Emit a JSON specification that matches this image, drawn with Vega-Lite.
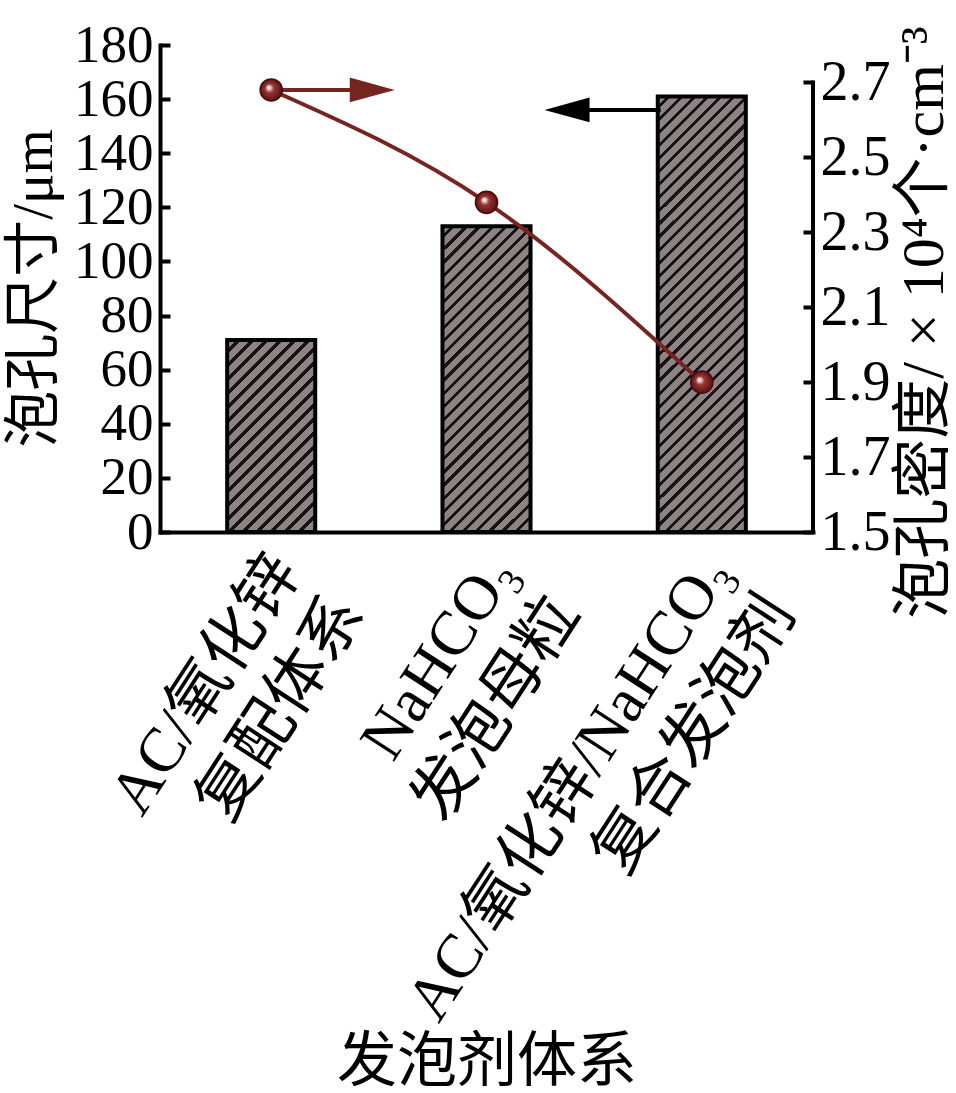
{
"$schema":"https://vega.github.io/schema/vega-lite/v6.json",
"width":653,"height":487,
"autosize":{"type":"none"},
"padding":{"left":160,"top":45,"right":143,"bottom":561},
"background":"white",
"config":{"view":{"stroke":null},"axis":{"grid":false,"domainColor":"#000","domainWidth":4,"tickColor":"#000","tickWidth":4,"labelColor":"#000","titleColor":"#000","labelFont":"Liberation Serif, Noto Sans CJK SC","titleFont":"Liberation Serif, Noto Sans CJK SC","titleFontWeight":"normal"}},
"data":{"values":[
{"system":"AC/氧化锌\n复配体系","size":71,"density":2.68},
{"system":"NaHCO₃\n发泡母粒","size":113,"density":2.38},
{"system":"AC/氧化锌/NaHCO₃\n复合发泡剂","size":161,"density":1.9}
]},
"resolve":{"scale":{"x":"independent","y":"independent"}},
"layer":[
{"transform":[{"filter":{"field":"system","equal":"AC/氧化锌\n复配体系"}}],
"mark":{"type":"bar","stroke":"#000","strokeWidth":4,"fill":{"gradient":"linear","x1":0,"y1":0,"x2":0.552,"y2":1.205,"stops":[
{"offset":0,"color":"#8c8484"},{"offset":0.034,"color":"#8c8484"},{"offset":0.034,"color":"#1a1212"},{"offset":0.05,"color":"#1a1212"},
{"offset":0.05,"color":"#8c8484"},{"offset":0.084,"color":"#8c8484"},{"offset":0.084,"color":"#1a1212"},{"offset":0.1,"color":"#1a1212"},
{"offset":0.1,"color":"#8c8484"},{"offset":0.134,"color":"#8c8484"},{"offset":0.134,"color":"#1a1212"},{"offset":0.15,"color":"#1a1212"},
{"offset":0.15,"color":"#8c8484"},{"offset":0.184,"color":"#8c8484"},{"offset":0.184,"color":"#1a1212"},{"offset":0.2,"color":"#1a1212"},
{"offset":0.2,"color":"#8c8484"},{"offset":0.234,"color":"#8c8484"},{"offset":0.234,"color":"#1a1212"},{"offset":0.25,"color":"#1a1212"},
{"offset":0.25,"color":"#8c8484"},{"offset":0.284,"color":"#8c8484"},{"offset":0.284,"color":"#1a1212"},{"offset":0.3,"color":"#1a1212"},
{"offset":0.3,"color":"#8c8484"},{"offset":0.334,"color":"#8c8484"},{"offset":0.334,"color":"#1a1212"},{"offset":0.35,"color":"#1a1212"},
{"offset":0.35,"color":"#8c8484"},{"offset":0.384,"color":"#8c8484"},{"offset":0.384,"color":"#1a1212"},{"offset":0.4,"color":"#1a1212"},
{"offset":0.4,"color":"#8c8484"},{"offset":0.434,"color":"#8c8484"},{"offset":0.434,"color":"#1a1212"},{"offset":0.45,"color":"#1a1212"},
{"offset":0.45,"color":"#8c8484"},{"offset":0.484,"color":"#8c8484"},{"offset":0.484,"color":"#1a1212"},{"offset":0.5,"color":"#1a1212"},
{"offset":0.5,"color":"#8c8484"},{"offset":0.534,"color":"#8c8484"},{"offset":0.534,"color":"#1a1212"},{"offset":0.55,"color":"#1a1212"},
{"offset":0.55,"color":"#8c8484"},{"offset":0.584,"color":"#8c8484"},{"offset":0.584,"color":"#1a1212"},{"offset":0.6,"color":"#1a1212"},
{"offset":0.6,"color":"#8c8484"},{"offset":0.634,"color":"#8c8484"},{"offset":0.634,"color":"#1a1212"},{"offset":0.65,"color":"#1a1212"},
{"offset":0.65,"color":"#8c8484"},{"offset":0.684,"color":"#8c8484"},{"offset":0.684,"color":"#1a1212"},{"offset":0.7,"color":"#1a1212"},
{"offset":0.7,"color":"#8c8484"},{"offset":0.734,"color":"#8c8484"},{"offset":0.734,"color":"#1a1212"},{"offset":0.75,"color":"#1a1212"},
{"offset":0.75,"color":"#8c8484"},{"offset":0.784,"color":"#8c8484"},{"offset":0.784,"color":"#1a1212"},{"offset":0.8,"color":"#1a1212"},
{"offset":0.8,"color":"#8c8484"},{"offset":0.834,"color":"#8c8484"},{"offset":0.834,"color":"#1a1212"},{"offset":0.85,"color":"#1a1212"},
{"offset":0.85,"color":"#8c8484"},{"offset":0.884,"color":"#8c8484"},{"offset":0.884,"color":"#1a1212"},{"offset":0.9,"color":"#1a1212"},
{"offset":0.9,"color":"#8c8484"},{"offset":0.934,"color":"#8c8484"},{"offset":0.934,"color":"#1a1212"},{"offset":0.95,"color":"#1a1212"},
{"offset":0.95,"color":"#8c8484"},{"offset":0.984,"color":"#8c8484"},{"offset":0.984,"color":"#1a1212"},{"offset":1,"color":"#1a1212"}
]}},
"encoding":{
"x":{"field":"system","type":"nominal","sort":null,"scale":{"type":"band","domain":["AC/氧化锌\n复配体系","NaHCO₃\n发泡母粒","AC/氧化锌/NaHCO₃\n复合发泡剂"],"paddingInner":0.591,"paddingOuter":0.312},
"axis":{"title":"发泡剂体系","titleFontSize":60,"titleBaseline":"middle","titleAlign":"center","titleY":530,"labelAngle":-57,"labelAlign":"right","labelBaseline":"top","labelFontSize":63,"labelLineHeight":76,"labelExpr":"split(datum.value, '\\n')","labelPadding":12,"labelOffset":-11,"labelLimit":1000,"labelOverlap":false,"labelBound":false,"ticks":false,"domainCap":"square"}},
"y":{"field":"size","type":"quantitative","scale":{"domain":[0,180],"nice":false},
"axis":{"title":"泡孔尺寸/μm","titleFontSize":57,"titleBaseline":"middle","titleAlign":"center","titleAngle":270,"titleX":-126,"titleY":243,"values":[0,20,40,60,80,100,120,140,160,180],"labelFontSize":53,"tickSize":-10,"labelPadding":17,"labelOverlap":false,"labelFlush":false,"labelBound":false,"domainCap":"square"}}
}},
{"transform":[{"filter":{"field":"system","equal":"NaHCO₃\n发泡母粒"}}],
"mark":{"type":"bar","stroke":"#000","strokeWidth":4,"fill":{"gradient":"linear","x1":0,"y1":0,"x2":0.342,"y2":1.189,"stops":[
{"offset":0,"color":"#8c8484"},{"offset":0.0227,"color":"#8c8484"},{"offset":0.0227,"color":"#1a1212"},{"offset":0.0333,"color":"#1a1212"},
{"offset":0.0333,"color":"#8c8484"},{"offset":0.056,"color":"#8c8484"},{"offset":0.056,"color":"#1a1212"},{"offset":0.0667,"color":"#1a1212"},
{"offset":0.0667,"color":"#8c8484"},{"offset":0.0893,"color":"#8c8484"},{"offset":0.0893,"color":"#1a1212"},{"offset":0.1,"color":"#1a1212"},
{"offset":0.1,"color":"#8c8484"},{"offset":0.1227,"color":"#8c8484"},{"offset":0.1227,"color":"#1a1212"},{"offset":0.1333,"color":"#1a1212"},
{"offset":0.1333,"color":"#8c8484"},{"offset":0.156,"color":"#8c8484"},{"offset":0.156,"color":"#1a1212"},{"offset":0.1667,"color":"#1a1212"},
{"offset":0.1667,"color":"#8c8484"},{"offset":0.1893,"color":"#8c8484"},{"offset":0.1893,"color":"#1a1212"},{"offset":0.2,"color":"#1a1212"},
{"offset":0.2,"color":"#8c8484"},{"offset":0.2227,"color":"#8c8484"},{"offset":0.2227,"color":"#1a1212"},{"offset":0.2333,"color":"#1a1212"},
{"offset":0.2333,"color":"#8c8484"},{"offset":0.256,"color":"#8c8484"},{"offset":0.256,"color":"#1a1212"},{"offset":0.2667,"color":"#1a1212"},
{"offset":0.2667,"color":"#8c8484"},{"offset":0.2893,"color":"#8c8484"},{"offset":0.2893,"color":"#1a1212"},{"offset":0.3,"color":"#1a1212"},
{"offset":0.3,"color":"#8c8484"},{"offset":0.3227,"color":"#8c8484"},{"offset":0.3227,"color":"#1a1212"},{"offset":0.3333,"color":"#1a1212"},
{"offset":0.3333,"color":"#8c8484"},{"offset":0.356,"color":"#8c8484"},{"offset":0.356,"color":"#1a1212"},{"offset":0.3667,"color":"#1a1212"},
{"offset":0.3667,"color":"#8c8484"},{"offset":0.3893,"color":"#8c8484"},{"offset":0.3893,"color":"#1a1212"},{"offset":0.4,"color":"#1a1212"},
{"offset":0.4,"color":"#8c8484"},{"offset":0.4227,"color":"#8c8484"},{"offset":0.4227,"color":"#1a1212"},{"offset":0.4333,"color":"#1a1212"},
{"offset":0.4333,"color":"#8c8484"},{"offset":0.456,"color":"#8c8484"},{"offset":0.456,"color":"#1a1212"},{"offset":0.4667,"color":"#1a1212"},
{"offset":0.4667,"color":"#8c8484"},{"offset":0.4893,"color":"#8c8484"},{"offset":0.4893,"color":"#1a1212"},{"offset":0.5,"color":"#1a1212"},
{"offset":0.5,"color":"#8c8484"},{"offset":0.5227,"color":"#8c8484"},{"offset":0.5227,"color":"#1a1212"},{"offset":0.5333,"color":"#1a1212"},
{"offset":0.5333,"color":"#8c8484"},{"offset":0.556,"color":"#8c8484"},{"offset":0.556,"color":"#1a1212"},{"offset":0.5667,"color":"#1a1212"},
{"offset":0.5667,"color":"#8c8484"},{"offset":0.5893,"color":"#8c8484"},{"offset":0.5893,"color":"#1a1212"},{"offset":0.6,"color":"#1a1212"},
{"offset":0.6,"color":"#8c8484"},{"offset":0.6227,"color":"#8c8484"},{"offset":0.6227,"color":"#1a1212"},{"offset":0.6333,"color":"#1a1212"},
{"offset":0.6333,"color":"#8c8484"},{"offset":0.656,"color":"#8c8484"},{"offset":0.656,"color":"#1a1212"},{"offset":0.6667,"color":"#1a1212"},
{"offset":0.6667,"color":"#8c8484"},{"offset":0.6893,"color":"#8c8484"},{"offset":0.6893,"color":"#1a1212"},{"offset":0.7,"color":"#1a1212"},
{"offset":0.7,"color":"#8c8484"},{"offset":0.7227,"color":"#8c8484"},{"offset":0.7227,"color":"#1a1212"},{"offset":0.7333,"color":"#1a1212"},
{"offset":0.7333,"color":"#8c8484"},{"offset":0.756,"color":"#8c8484"},{"offset":0.756,"color":"#1a1212"},{"offset":0.7667,"color":"#1a1212"},
{"offset":0.7667,"color":"#8c8484"},{"offset":0.7893,"color":"#8c8484"},{"offset":0.7893,"color":"#1a1212"},{"offset":0.8,"color":"#1a1212"},
{"offset":0.8,"color":"#8c8484"},{"offset":0.8227,"color":"#8c8484"},{"offset":0.8227,"color":"#1a1212"},{"offset":0.8333,"color":"#1a1212"},
{"offset":0.8333,"color":"#8c8484"},{"offset":0.856,"color":"#8c8484"},{"offset":0.856,"color":"#1a1212"},{"offset":0.8667,"color":"#1a1212"},
{"offset":0.8667,"color":"#8c8484"},{"offset":0.8893,"color":"#8c8484"},{"offset":0.8893,"color":"#1a1212"},{"offset":0.9,"color":"#1a1212"},
{"offset":0.9,"color":"#8c8484"},{"offset":0.9227,"color":"#8c8484"},{"offset":0.9227,"color":"#1a1212"},{"offset":0.9333,"color":"#1a1212"},
{"offset":0.9333,"color":"#8c8484"},{"offset":0.956,"color":"#8c8484"},{"offset":0.956,"color":"#1a1212"},{"offset":0.9667,"color":"#1a1212"},
{"offset":0.9667,"color":"#8c8484"},{"offset":0.9893,"color":"#8c8484"},{"offset":0.9893,"color":"#1a1212"},{"offset":1,"color":"#1a1212"}
]}},
"encoding":{
"x":{"field":"system","type":"nominal","sort":null,"scale":{"type":"band","domain":["AC/氧化锌\n复配体系","NaHCO₃\n发泡母粒","AC/氧化锌/NaHCO₃\n复合发泡剂"],"paddingInner":0.591,"paddingOuter":0.312},"axis":null},
"y":{"field":"size","type":"quantitative","scale":{"domain":[0,180],"nice":false},"axis":null}
}},
{"transform":[{"filter":{"field":"system","equal":"AC/氧化锌/NaHCO₃\n复合发泡剂"}}],
"mark":{"type":"bar","stroke":"#000","strokeWidth":4,"fill":{"gradient":"linear","x1":0,"y1":0,"x2":0.2333,"y2":1.155,"stops":[
{"offset":0,"color":"#8c8484"},{"offset":0.017,"color":"#8c8484"},{"offset":0.017,"color":"#1a1212"},{"offset":0.025,"color":"#1a1212"},
{"offset":0.025,"color":"#8c8484"},{"offset":0.042,"color":"#8c8484"},{"offset":0.042,"color":"#1a1212"},{"offset":0.05,"color":"#1a1212"},
{"offset":0.05,"color":"#8c8484"},{"offset":0.067,"color":"#8c8484"},{"offset":0.067,"color":"#1a1212"},{"offset":0.075,"color":"#1a1212"},
{"offset":0.075,"color":"#8c8484"},{"offset":0.092,"color":"#8c8484"},{"offset":0.092,"color":"#1a1212"},{"offset":0.1,"color":"#1a1212"},
{"offset":0.1,"color":"#8c8484"},{"offset":0.117,"color":"#8c8484"},{"offset":0.117,"color":"#1a1212"},{"offset":0.125,"color":"#1a1212"},
{"offset":0.125,"color":"#8c8484"},{"offset":0.142,"color":"#8c8484"},{"offset":0.142,"color":"#1a1212"},{"offset":0.15,"color":"#1a1212"},
{"offset":0.15,"color":"#8c8484"},{"offset":0.167,"color":"#8c8484"},{"offset":0.167,"color":"#1a1212"},{"offset":0.175,"color":"#1a1212"},
{"offset":0.175,"color":"#8c8484"},{"offset":0.192,"color":"#8c8484"},{"offset":0.192,"color":"#1a1212"},{"offset":0.2,"color":"#1a1212"},
{"offset":0.2,"color":"#8c8484"},{"offset":0.217,"color":"#8c8484"},{"offset":0.217,"color":"#1a1212"},{"offset":0.225,"color":"#1a1212"},
{"offset":0.225,"color":"#8c8484"},{"offset":0.242,"color":"#8c8484"},{"offset":0.242,"color":"#1a1212"},{"offset":0.25,"color":"#1a1212"},
{"offset":0.25,"color":"#8c8484"},{"offset":0.267,"color":"#8c8484"},{"offset":0.267,"color":"#1a1212"},{"offset":0.275,"color":"#1a1212"},
{"offset":0.275,"color":"#8c8484"},{"offset":0.292,"color":"#8c8484"},{"offset":0.292,"color":"#1a1212"},{"offset":0.3,"color":"#1a1212"},
{"offset":0.3,"color":"#8c8484"},{"offset":0.317,"color":"#8c8484"},{"offset":0.317,"color":"#1a1212"},{"offset":0.325,"color":"#1a1212"},
{"offset":0.325,"color":"#8c8484"},{"offset":0.342,"color":"#8c8484"},{"offset":0.342,"color":"#1a1212"},{"offset":0.35,"color":"#1a1212"},
{"offset":0.35,"color":"#8c8484"},{"offset":0.367,"color":"#8c8484"},{"offset":0.367,"color":"#1a1212"},{"offset":0.375,"color":"#1a1212"},
{"offset":0.375,"color":"#8c8484"},{"offset":0.392,"color":"#8c8484"},{"offset":0.392,"color":"#1a1212"},{"offset":0.4,"color":"#1a1212"},
{"offset":0.4,"color":"#8c8484"},{"offset":0.417,"color":"#8c8484"},{"offset":0.417,"color":"#1a1212"},{"offset":0.425,"color":"#1a1212"},
{"offset":0.425,"color":"#8c8484"},{"offset":0.442,"color":"#8c8484"},{"offset":0.442,"color":"#1a1212"},{"offset":0.45,"color":"#1a1212"},
{"offset":0.45,"color":"#8c8484"},{"offset":0.467,"color":"#8c8484"},{"offset":0.467,"color":"#1a1212"},{"offset":0.475,"color":"#1a1212"},
{"offset":0.475,"color":"#8c8484"},{"offset":0.492,"color":"#8c8484"},{"offset":0.492,"color":"#1a1212"},{"offset":0.5,"color":"#1a1212"},
{"offset":0.5,"color":"#8c8484"},{"offset":0.517,"color":"#8c8484"},{"offset":0.517,"color":"#1a1212"},{"offset":0.525,"color":"#1a1212"},
{"offset":0.525,"color":"#8c8484"},{"offset":0.542,"color":"#8c8484"},{"offset":0.542,"color":"#1a1212"},{"offset":0.55,"color":"#1a1212"},
{"offset":0.55,"color":"#8c8484"},{"offset":0.567,"color":"#8c8484"},{"offset":0.567,"color":"#1a1212"},{"offset":0.575,"color":"#1a1212"},
{"offset":0.575,"color":"#8c8484"},{"offset":0.592,"color":"#8c8484"},{"offset":0.592,"color":"#1a1212"},{"offset":0.6,"color":"#1a1212"},
{"offset":0.6,"color":"#8c8484"},{"offset":0.617,"color":"#8c8484"},{"offset":0.617,"color":"#1a1212"},{"offset":0.625,"color":"#1a1212"},
{"offset":0.625,"color":"#8c8484"},{"offset":0.642,"color":"#8c8484"},{"offset":0.642,"color":"#1a1212"},{"offset":0.65,"color":"#1a1212"},
{"offset":0.65,"color":"#8c8484"},{"offset":0.667,"color":"#8c8484"},{"offset":0.667,"color":"#1a1212"},{"offset":0.675,"color":"#1a1212"},
{"offset":0.675,"color":"#8c8484"},{"offset":0.692,"color":"#8c8484"},{"offset":0.692,"color":"#1a1212"},{"offset":0.7,"color":"#1a1212"},
{"offset":0.7,"color":"#8c8484"},{"offset":0.717,"color":"#8c8484"},{"offset":0.717,"color":"#1a1212"},{"offset":0.725,"color":"#1a1212"},
{"offset":0.725,"color":"#8c8484"},{"offset":0.742,"color":"#8c8484"},{"offset":0.742,"color":"#1a1212"},{"offset":0.75,"color":"#1a1212"},
{"offset":0.75,"color":"#8c8484"},{"offset":0.767,"color":"#8c8484"},{"offset":0.767,"color":"#1a1212"},{"offset":0.775,"color":"#1a1212"},
{"offset":0.775,"color":"#8c8484"},{"offset":0.792,"color":"#8c8484"},{"offset":0.792,"color":"#1a1212"},{"offset":0.8,"color":"#1a1212"},
{"offset":0.8,"color":"#8c8484"},{"offset":0.817,"color":"#8c8484"},{"offset":0.817,"color":"#1a1212"},{"offset":0.825,"color":"#1a1212"},
{"offset":0.825,"color":"#8c8484"},{"offset":0.842,"color":"#8c8484"},{"offset":0.842,"color":"#1a1212"},{"offset":0.85,"color":"#1a1212"},
{"offset":0.85,"color":"#8c8484"},{"offset":0.867,"color":"#8c8484"},{"offset":0.867,"color":"#1a1212"},{"offset":0.875,"color":"#1a1212"},
{"offset":0.875,"color":"#8c8484"},{"offset":0.892,"color":"#8c8484"},{"offset":0.892,"color":"#1a1212"},{"offset":0.9,"color":"#1a1212"},
{"offset":0.9,"color":"#8c8484"},{"offset":0.917,"color":"#8c8484"},{"offset":0.917,"color":"#1a1212"},{"offset":0.925,"color":"#1a1212"},
{"offset":0.925,"color":"#8c8484"},{"offset":0.942,"color":"#8c8484"},{"offset":0.942,"color":"#1a1212"},{"offset":0.95,"color":"#1a1212"},
{"offset":0.95,"color":"#8c8484"},{"offset":0.967,"color":"#8c8484"},{"offset":0.967,"color":"#1a1212"},{"offset":0.975,"color":"#1a1212"},
{"offset":0.975,"color":"#8c8484"},{"offset":0.992,"color":"#8c8484"},{"offset":0.992,"color":"#1a1212"},{"offset":1,"color":"#1a1212"}
]}},
"encoding":{
"x":{"field":"system","type":"nominal","sort":null,"scale":{"type":"band","domain":["AC/氧化锌\n复配体系","NaHCO₃\n发泡母粒","AC/氧化锌/NaHCO₃\n复合发泡剂"],"paddingInner":0.591,"paddingOuter":0.312},"axis":null},
"y":{"field":"size","type":"quantitative","scale":{"domain":[0,180],"nice":false},"axis":null}
}},
{"mark":{"type":"line","interpolate":"monotone","stroke":"#762420","strokeWidth":4},
"encoding":{
"x":{"field":"system","type":"nominal","sort":null,"scale":{"type":"band","domain":["AC/氧化锌\n复配体系","NaHCO₃\n发泡母粒","AC/氧化锌/NaHCO₃\n复合发泡剂"],"paddingInner":0.591,"paddingOuter":0.312},"axis":null},
"y":{"field":"density","type":"quantitative","scale":{"domain":[1.5,2.8],"nice":false,"zero":false},"axis":null}
}},
{"data":{"values":[{"start":0.5,"end":0.88,"level":2.68}]},
"mark":{"type":"rule","stroke":"#762420","strokeWidth":4},
"encoding":{
"x":{"field":"start","type":"quantitative","scale":{"domain":[0,3],"nice":false,"zero":false},"axis":null},
"x2":{"field":"end"},
"y":{"field":"level","type":"quantitative","scale":{"domain":[1.5,2.8],"nice":false,"zero":false},"axis":null}
}},
{"data":{"values":[{"pos":0.975,"level":2.68}]},
"mark":{"type":"point","shape":"M-1,-0.55L1,0L-1,0.55Z","size":2025,"filled":true,"fill":"#762420","strokeWidth":0,"opacity":1},
"encoding":{
"x":{"field":"pos","type":"quantitative","scale":{"domain":[0,3],"nice":false,"zero":false},"axis":null},
"y":{"field":"level","type":"quantitative","scale":{"domain":[1.5,2.8],"nice":false,"zero":false},"axis":null}
}},
{"data":{"values":[{"start":2.3,"end":1.96,"level":156}]},
"mark":{"type":"rule","stroke":"#000","strokeWidth":4},
"encoding":{
"x":{"field":"start","type":"quantitative","scale":{"domain":[0,3],"nice":false,"zero":false},"axis":null},
"x2":{"field":"end"},
"y":{"field":"level","type":"quantitative","scale":{"domain":[0,180],"nice":false},"axis":null}
}},
{"data":{"values":[{"pos":1.87,"level":156}]},
"mark":{"type":"point","shape":"M1,-0.55L-1,0L1,0.55Z","size":2025,"filled":true,"fill":"#000","strokeWidth":0,"opacity":1},
"encoding":{
"x":{"field":"pos","type":"quantitative","scale":{"domain":[0,3],"nice":false,"zero":false},"axis":null},
"y":{"field":"level","type":"quantitative","scale":{"domain":[0,180],"nice":false},"axis":null}
}},
{"data":{"values":[{}]},
"mark":{"type":"rule","stroke":"#000","strokeWidth":4,"strokeCap":"square"},
"encoding":{
"x":{"datum":3,"type":"quantitative","scale":{"domain":[0,3],"nice":false,"zero":false},"axis":null},
"y":{"datum":1.5,"type":"quantitative","scale":{"domain":[1.5,2.8],"nice":false,"zero":false},"axis":null},
"y2":{"datum":2.7}
}},
{"mark":{"type":"point","shape":"circle","size":490,"filled":true,"opacity":1,"stroke":"#4a0c0c","strokeWidth":1.5,"fill":{"gradient":"radial","x1":0.38,"y1":0.38,"r1":0,"x2":0.5,"y2":0.5,"r2":0.5,"stops":[{"offset":0,"color":"#ffffff"},{"offset":0.15,"color":"#f0d0d0"},{"offset":0.4,"color":"#9a3535"},{"offset":1,"color":"#5a1212"}]}},
"encoding":{
"x":{"field":"system","type":"nominal","sort":null,"scale":{"type":"band","domain":["AC/氧化锌\n复配体系","NaHCO₃\n发泡母粒","AC/氧化锌/NaHCO₃\n复合发泡剂"],"paddingInner":0.591,"paddingOuter":0.312},"axis":null},
"y":{"field":"density","type":"quantitative","scale":{"domain":[1.5,2.8],"nice":false,"zero":false},
"axis":{"orient":"right","title":"泡孔密度/ × 10⁴个·cm⁻³","titleFontSize":60,"titleAngle":270,"titleBaseline":"middle","titleAlign":"center","titleX":111,"titleY":277,"values":[1.5,1.7,1.9,2.1,2.3,2.5,2.7],"format":".1f","labelFontSize":56,"tickSize":-10,"labelPadding":17,"labelOverlap":false,"labelFlush":false,"labelBound":false,"domain":false}}
}}
]
}
